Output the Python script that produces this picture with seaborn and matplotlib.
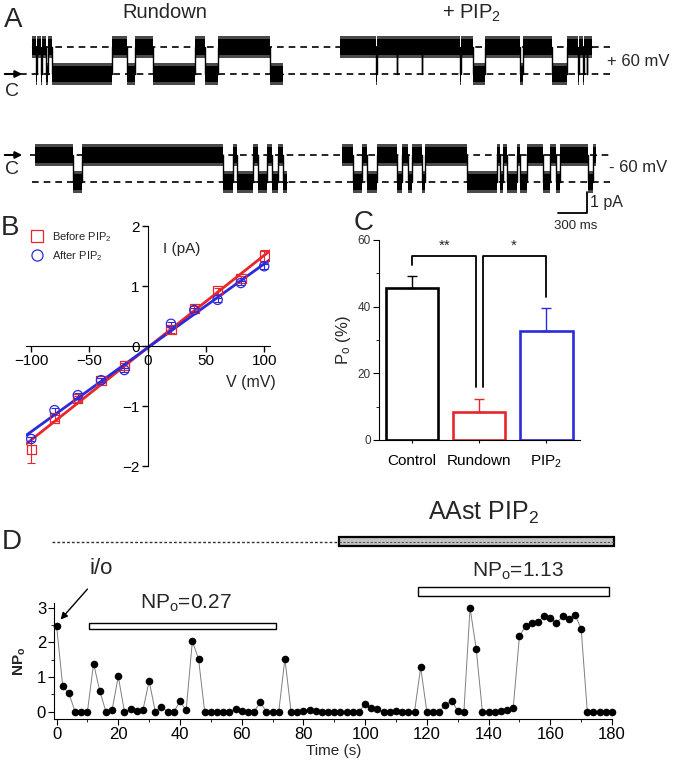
import numpy as np
import pandas as pd
import seaborn as sns
import matplotlib.pyplot as plt
from matplotlib.patches import Rectangle
from matplotlib.lines import Line2D

sns.set_style("ticks", {"axes.edgecolor": "black", "xtick.color": "black", "ytick.color": "black"})
plt.rcParams['font.family'] = ['Liberation Sans', 'DejaVu Sans']
plt.rcParams['mathtext.fontset'] = 'custom'
plt.rcParams['mathtext.rm'] = 'Liberation Sans'
plt.rcParams['mathtext.it'] = 'Liberation Sans:italic'
plt.rcParams['mathtext.bf'] = 'Liberation Sans:bold'

RED = '#e8262b'
BLUE = '#2b2bdc'

# --- A: single channel records, dwell times (ms), 1 = open, 0 = closed
top_rundown_dur = [45, 14, 36, 14, 42, 21, 39, 634, 158, 88, 193, 440, 106, 140, 546, 140]
top_rundown_st = [1, 0, 1, 0, 1, 0, 1, 0, 1, 0, 1, 0, 1, 0, 1, 0]
top_pip2_dur = [380, 8, 210, 8, 256, 8, 397, 8, 133, 124, 370, 28, 306, 158, 123, 8, 45, 8, 28, 8, 44]
top_pip2_st = [1, 0, 1, 0, 1, 0, 1, 0, 1, 0, 1, 0, 1, 0, 1, 0, 1, 0, 1, 0, 1]
bot_rundown_dur = [405, 88, 1496, 106, 42, 169, 53, 88, 53, 70, 46, 42]
bot_rundown_st = [0, 1, 0, 1, 0, 1, 0, 1, 0, 1, 0, 1]
bot_pip2_dur = [123, 88, 53, 106, 211, 53, 70, 35, 106, 35, 440, 317, 35, 35, 35, 106, 35, 70, 176, 70,
                70, 42, 292, 53, 35]
bot_pip2_st = [0, 1, 0, 1, 0, 1, 0, 1, 0, 1, 0, 1, 0, 1, 0, 1, 0, 1, 0, 1, 0, 1, 0, 1, 0]

# --- B: I-V relation
volt = [-100, -80, -60, -40, -20, 20, 40, 60, 80, 100]
i_before = [-1.73, -1.20, -0.88, -0.58, -0.32, 0.27, 0.63, 0.92, 1.12, 1.50]
i_before_err = [0.22, 0.05, 0.05, 0.04, 0.04, 0.05, 0.04, 0.05, 0.04, 0.10]
i_after = [-1.55, -1.07, -0.82, -0.57, -0.40, 0.37, 0.60, 0.77, 1.05, 1.33]
i_after_err = [0.04, 0.04, 0.04, 0.03, 0.03, 0.03, 0.03, 0.03, 0.03, 0.04]

# --- C: open probability
conds = ['Control', 'Rundown', 'PIP$_2$']
po = [45.5, 8.5, 32.7]
po_sem = [3.7, 3.8, 6.8]

# --- D: NPo time course
time_s = np.arange(0, 181, 2)
npo = [2.48, 0.74, 0.53, 0, 0, 0, 1.39, 0.60, 0, 0.05,
       1.02, 0, 0.07, 0.02, 0.05, 0.89, 0, 0.15, 0, 0,
       0.30, 0.04, 2.03, 1.53, 0, 0, 0, 0, 0, 0.08,
       0.02, 0, 0, 0.27, 0, 0, 0, 1.53, 0, 0,
       0.01, 0.06, 0.01, 0, 0, 0, 0, 0, 0, 0,
       0.22, 0.10, 0.07, 0, 0, 0.03, 0, 0, 0, 1.28,
       0, 0, 0, 0.20, 0.32, 0.03, 0, 3.00, 1.81, 0,
       0, 0, 0.02, 0.05, 0.12, 2.18, 2.48, 2.55, 2.60, 2.76,
       2.71, 2.56, 2.75, 2.68, 2.80, 2.40, 0, 0, 0, 0,
       0]

W, H = 680, 770
fig = plt.figure(figsize=(6.8, 7.7), dpi=100)


def ax_px(l, t, r, b):
    return fig.add_axes([l / W, 1 - b / H, (r - l) / W, (b - t) / H])


def ftext(x, y, s, **kw):
    fig.text(x / W, 1 - y / H, s, **kw)


def fline(xs, ys, **kw):
    fig.add_artist(Line2D([x / W for x in xs], [1 - y / H for y in ys], **kw))


MS_PX = 300 / 28.4


def draw_trace(ax, start_px, durs, states, sign):
    edges = start_px * MS_PX + np.concatenate([[0], np.cumsum(durs)])
    lev = sign * np.append(states, states[-1]).astype(float)
    ax.fill_between(edges, lev - 0.42, lev + 0.42, step='post', color='#4a4a4a', lw=0, zorder=2)
    ax.fill_between(edges, lev - 0.3, lev + 0.3, step='post', color='black', lw=0, zorder=3)
    ax.step(edges, lev, where='post', color='black', lw=1, zorder=3)


dash = (0, (4, 3))
axA1 = ax_px(0, 20, 680, 101)
axA1.set_xlim(0, 680 * MS_PX)
axA1.set_ylim(-1, 2)
axA1.axis('off')
axA1.plot([31.7 * MS_PX, 610 * MS_PX], [1, 1], color='black', lw=1.2, ls=dash, zorder=1)
axA1.plot([20 * MS_PX, 610 * MS_PX], [0, 0], color='black', lw=1.2, ls=dash, zorder=1)
draw_trace(axA1, 31.7, top_rundown_dur, top_rundown_st, 1)
draw_trace(axA1, 340, top_pip2_dur, top_pip2_st, 1)
axA1.annotate('', xy=(25 * MS_PX, 0), xytext=(2 * MS_PX, 0),
              arrowprops=dict(arrowstyle='-|>', color='black', lw=1.5, mutation_scale=10))

axA2 = ax_px(0, 128, 680, 209)
axA2.set_xlim(0, 680 * MS_PX)
axA2.set_ylim(-2, 1)
axA2.axis('off')
axA2.plot([30 * MS_PX, 610 * MS_PX], [0, 0], color='black', lw=1.2, ls=dash, zorder=1)
axA2.plot([31.7 * MS_PX, 610 * MS_PX], [-1, -1], color='black', lw=1.2, ls=dash, zorder=1)
draw_trace(axA2, 35, bot_rundown_dur, bot_rundown_st, -1)
draw_trace(axA2, 341.7, bot_pip2_dur, bot_pip2_st, -1)
axA2.annotate('', xy=(25 * MS_PX, 0), xytext=(2 * MS_PX, 0),
              arrowprops=dict(arrowstyle='-|>', color='black', lw=1.5, mutation_scale=10))

ftext(4, 20, 'A', fontsize=20, va='center')
ftext(165, 13, 'Rundown', fontsize=14.5, ha='center', va='center')
ftext(472, 13, '+ PIP$_2$', fontsize=14.5, ha='center', va='center')
ftext(12, 91, 'C', fontsize=14, ha='center', va='center')
ftext(12, 170, 'C', fontsize=14, ha='center', va='center')
ftext(607, 61, '+ 60 mV', fontsize=12, va='center')
ftext(609, 168, '- 60 mV', fontsize=12, va='center')
fline([558, 587, 587], [213, 213, 192], color='black', lw=1.3)
ftext(590, 202, '1 pA', fontsize=11.5, va='center')
ftext(576, 226, '300 ms', fontsize=9.5, ha='center', va='center')

# --- B
axB = ax_px(26, 226, 270, 466)
axB.set_xlim(-104.5, 105)
axB.set_ylim(-2, 2)
for cur, err, col, mk, lab in [(i_before, i_before_err, RED, 's', 'Before PIP$_2$'),
                               (i_after, i_after_err, BLUE, 'o', 'After PIP$_2$')]:
    axB.errorbar(volt, cur, yerr=err, fmt='none', ecolor=col, elinewidth=0.8, capsize=3, capthick=0.8)
    sns.regplot(x=volt, y=cur, ax=axB, scatter=False, ci=None, truncate=False,
                line_kws=dict(color=col, lw=2))
    sns.scatterplot(x=volt, y=cur, ax=axB, marker=mk, s=45, color=col, facecolor='none',
                    edgecolor=col, linewidth=0.9, zorder=4)
for s in ['top', 'right']:
    axB.spines[s].set_visible(False)
axB.spines['left'].set_position(('data', 0))
axB.spines['bottom'].set_position(('data', 0))
axB.set_xticks([-100, -50, 0, 50, 100])
axB.set_yticks([-2, -1, 0, 1, 2])
axB.tick_params(direction='out', length=4, width=1, labelsize=11, pad=2)
axB.set_xlabel('')
axB.set_ylabel('')
handles = [Line2D([], [], marker='s', ls='none', mfc='none', mec=RED, ms=8, mew=0.9),
           Line2D([], [], marker='o', ls='none', mfc='none', mec=BLUE, ms=8, mew=0.9)]
axB.legend(handles, ['Before PIP$_2$', 'After PIP$_2$'], loc='upper left',
           bbox_to_anchor=(31 / W, 1 - 230 / H), bbox_transform=fig.transFigure,
           frameon=False, fontsize=8, handlelength=1, handletextpad=0.9, labelspacing=0.45,
           borderpad=0, borderaxespad=0)
ftext(163, 249, 'I (pA)', fontsize=11, va='center')
ftext(226, 382, 'V (mV)', fontsize=11.5, va='center')
ftext(1, 228, 'B', fontsize=20, va='center')

# --- C
axC = ax_px(379, 240, 580, 440)
dfC = pd.DataFrame({'cond': conds, 'po': po})
sns.barplot(data=dfC, x='cond', y='po', hue='cond', palette=['black', RED, BLUE], fill=False,
            linewidth=1.9, width=0.78, legend=False, errorbar=None, ax=axC)
for i, col in enumerate(['black', RED, BLUE]):
    axC.errorbar(i, po[i], yerr=[[0], [po_sem[i]]], fmt='none', ecolor=col, elinewidth=1,
                 capsize=3.5, capthick=1)
axC.set_xlim(-0.49, 2.5)
axC.set_ylim(0, 60)
axC.set_yticks([0, 20, 40, 60])
axC.set_yticks([10, 30, 50], minor=True)
axC.tick_params(axis='y', which='major', length=4, labelsize=8.5, labelcolor='#333333', pad=2)
axC.tick_params(axis='y', which='minor', length=2)
axC.tick_params(axis='x', length=2, labelsize=11, pad=8)
sns.despine(ax=axC)
axC.set_xlabel('')
axC.set_ylabel('P$_\\mathrm{o}$ (%)', fontsize=12, labelpad=3)
bk = dict(color='black', lw=1.3, clip_on=False)
axC.plot([0, 0, 0.955, 0.955], [52.5, 55.2, 55.2, 16], **bk)
axC.plot([1.06, 1.06, 2, 2], [16, 55.2, 55.2, 43], **bk)
axC.text(0.48, 58.2, '**', ha='center', va='center', fontsize=11)
axC.text(1.51, 58.2, '*', ha='center', va='center', fontsize=11)
ftext(354, 223, 'C', fontsize=20, va='center')

# --- D
axD = ax_px(54.4, 603.3, 612, 719)
sns.lineplot(x=time_s, y=npo, ax=axD, color='#7f7f7f', lw=0.7)
sns.scatterplot(x=time_s, y=npo, ax=axD, color='black', s=30, edgecolor='black', linewidth=0,
                zorder=3, clip_on=False)
axD.set_xlim(-0.7, 180)
axD.set_ylim(-0.21, 3.13)
axD.set_xticks(np.arange(0, 181, 20))
axD.set_xticks(np.arange(10, 180, 20), minor=True)
axD.set_yticks([0, 1, 2, 3])
axD.set_yticks([0.5, 1.5, 2.5], minor=True)
axD.tick_params(which='major', length=4, labelsize=12, pad=2)
axD.tick_params(which='minor', length=2)
sns.despine(ax=axD)
axD.set_xlabel('Time (s)', fontsize=11, labelpad=1)
axD.set_ylabel('NP$_\\mathbf{o}$', fontsize=11, fontweight='bold', labelpad=6)
axD.add_patch(Rectangle((10.5, 2.38), 60.5, 0.18, fc='white', ec='black', lw=1, clip_on=False))
axD.add_patch(Rectangle((117, 3.33), 62, 0.27, fc='white', ec='black', lw=1, clip_on=False))
axD.add_patch(Rectangle((91.6, 4.77), 89, 0.26, fc='#c4c4c4', ec='black', lw=1.6, clip_on=False))
axD.plot([91.6, 180.6], [4.9, 4.9], color='#555555', lw=0.8, ls=(0, (2, 1.5)), clip_on=False)
axD.plot([-1.5, 91.6], [4.9, 4.9], color='#333333', lw=1, ls=(0, (2, 1.5)), clip_on=False)
axD.text(42, 2.98, 'NP$_\\mathrm{o}$=0.27', ha='center', va='baseline', fontsize=15)
axD.text(149.5, 3.89, 'NP$_\\mathrm{o}$=1.13', ha='center', va='baseline', fontsize=15)
axD.text(138.3, 5.53, 'AAst PIP$_2$', ha='center', va='baseline', fontsize=18)
axD.text(14.5, 3.97, 'i/o', ha='center', va='baseline', fontsize=16)
axD.annotate('', xy=(0.7, 2.6), xytext=(10.6, 3.6), annotation_clip=False,
             arrowprops=dict(arrowstyle='-|>', color='black', lw=1, mutation_scale=10))
ftext(2, 542, 'D', fontsize=20, va='center')

fig.savefig('out.png', dpi=100)
